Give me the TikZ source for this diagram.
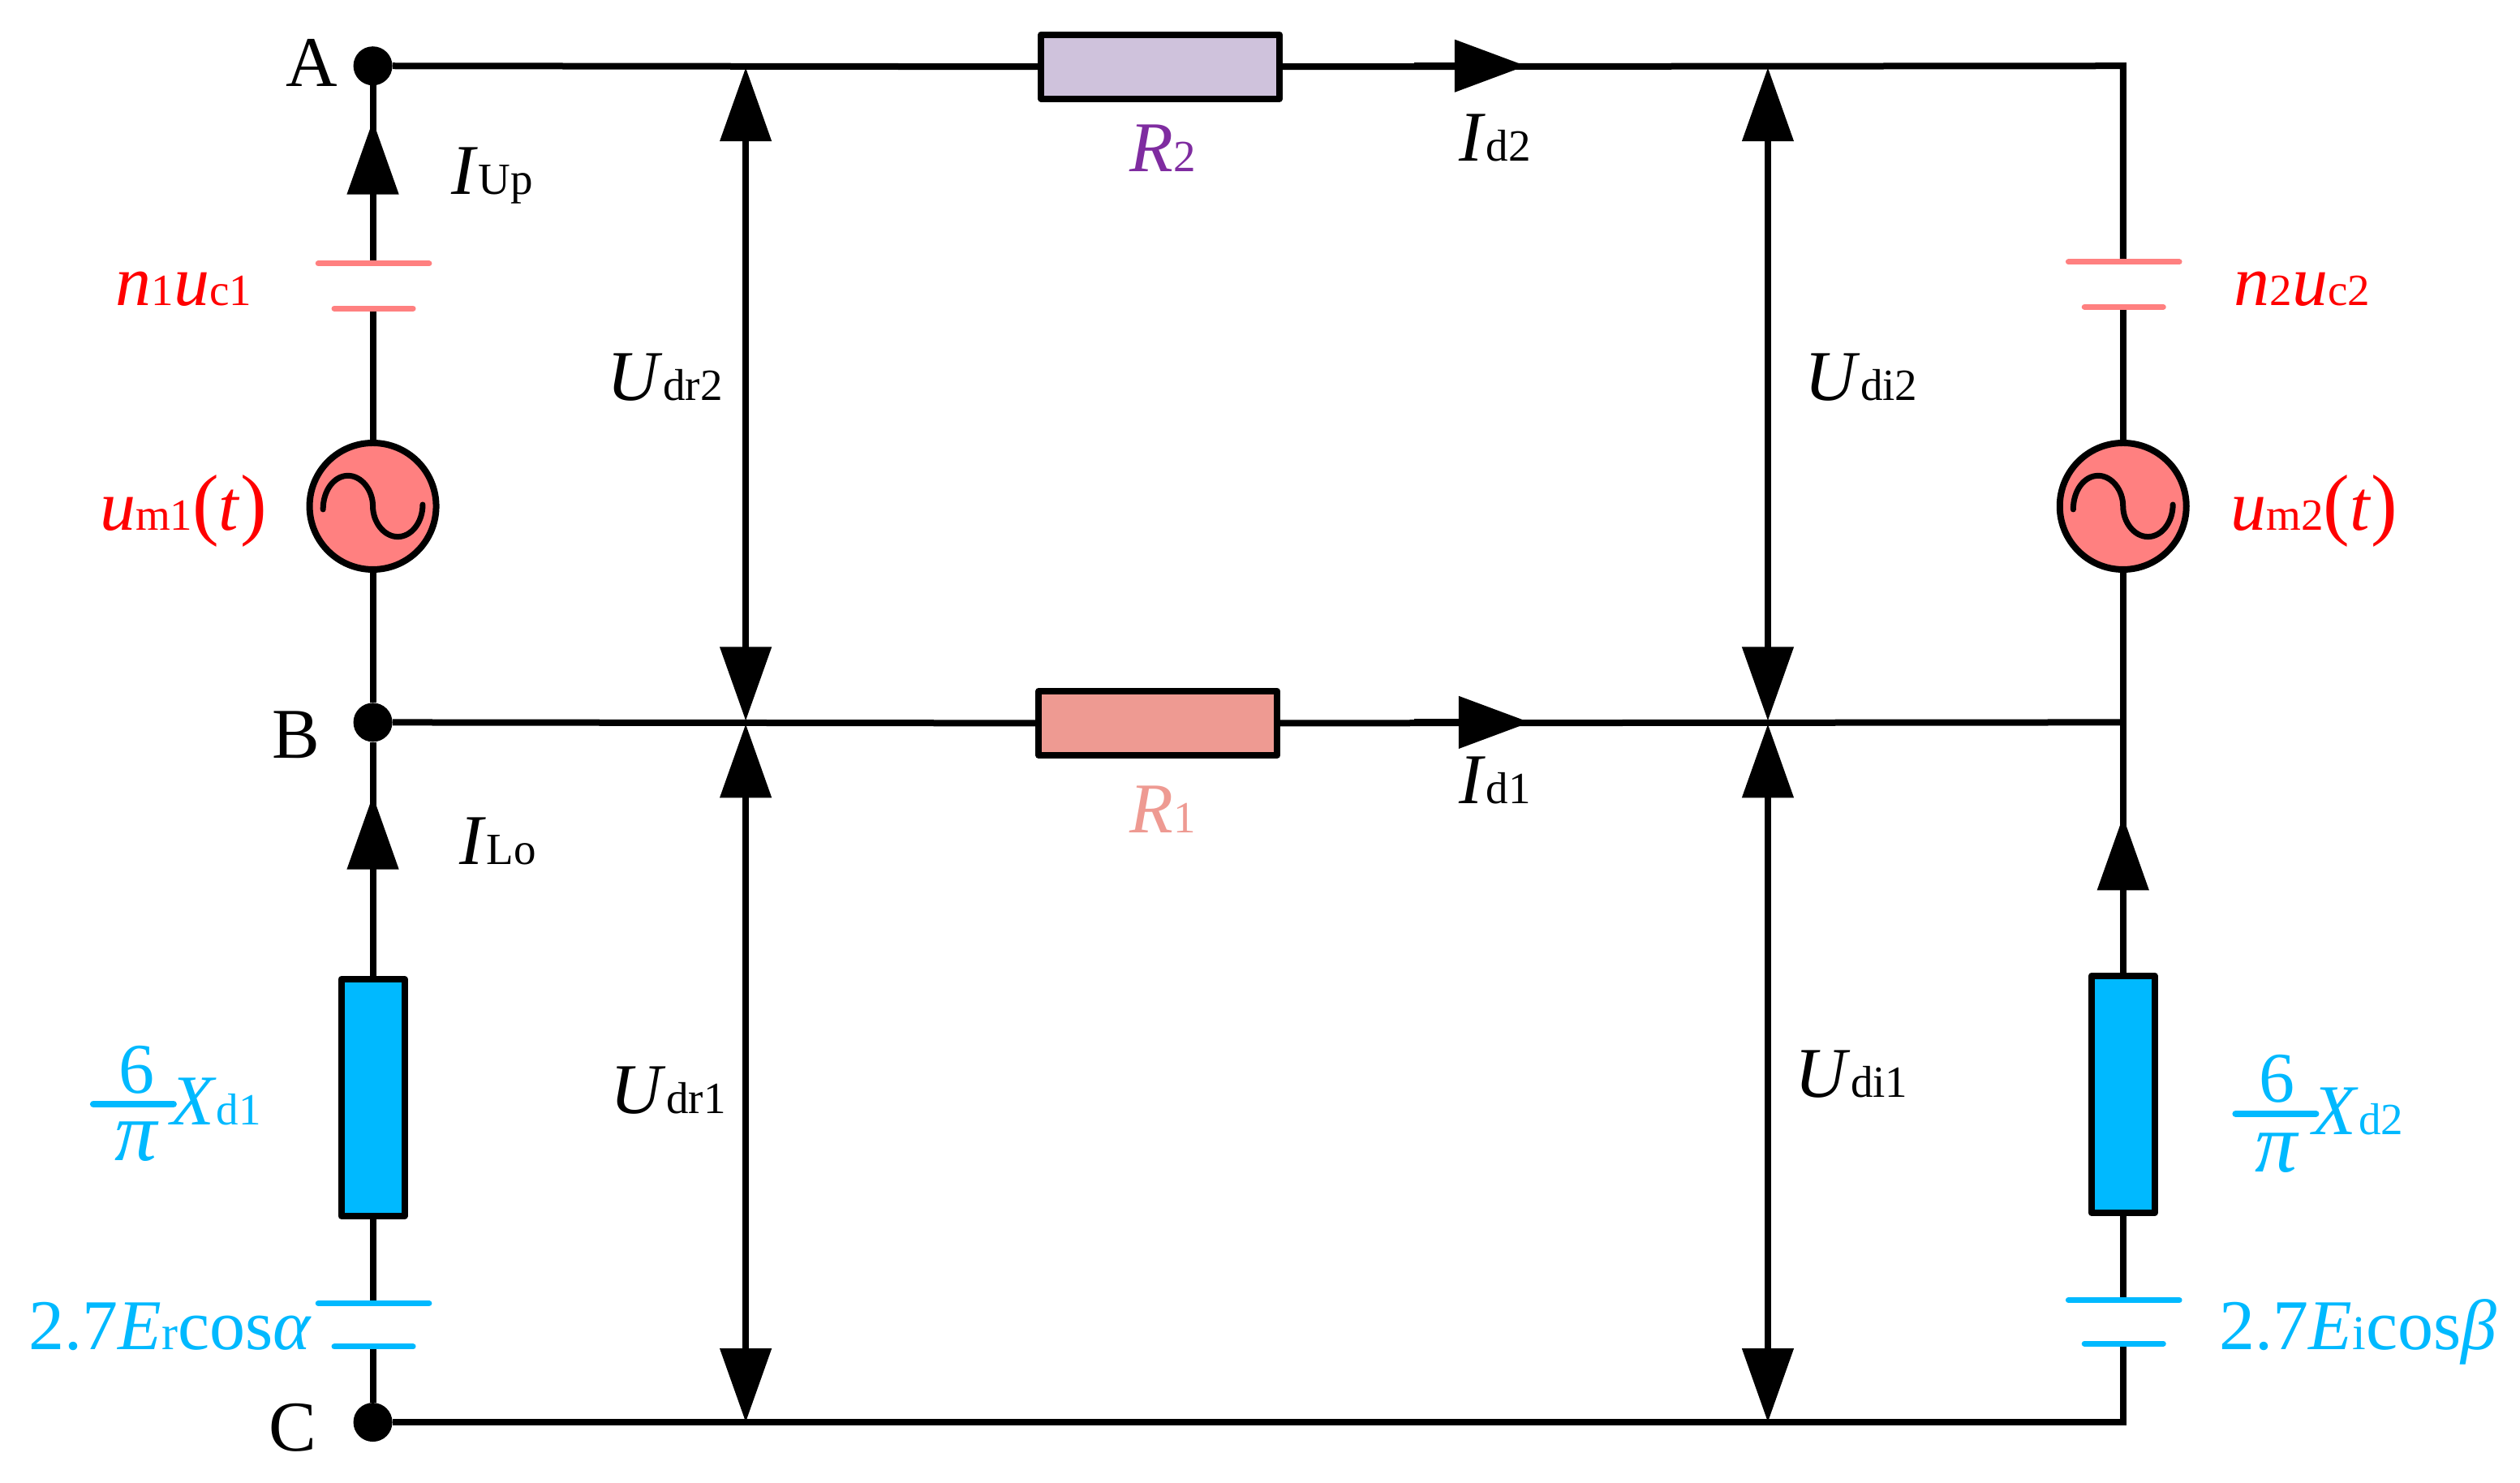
\documentclass[tikz,border=0pt]{standalone}
\usepackage{fontspec}
\setmainfont{Liberation Serif}
\usetikzlibrary{arrows.meta,calc}
\definecolor{cRed}{HTML}{FF0000}
\definecolor{cPink}{HTML}{FF8080}
\definecolor{cBlue}{HTML}{00B9FF}
\definecolor{cRone}{HTML}{EE9A92}
\definecolor{cRtwo}{HTML}{CFC2DC}
\definecolor{cPurple}{HTML}{7F2CA0}
\newcommand{\sbs}[1]{{\fontsize{55}{55}\selectfont #1}}
\newcommand{\sbc}[1]{{\fontsize{60}{60}\selectfont #1}}
\newcommand{\va}[1]{\textit{#1}}
\newcommand{\tallp}[1]{{\fontsize{98}{98}\selectfont #1}}
\tikzset{
  wire/.style={line width=8pt,black},
  bigtip/.style={-{Triangle[length=91pt,width=62pt,inset=0pt]}},
  horztip/.style={-{Triangle[length=88pt,width=63pt,inset=0pt]}},
  dbltip/.style={{Triangle[length=91pt,width=62pt,inset=0pt]}-{Triangle[length=91pt,width=62pt,inset=0pt]}},
  dot/.style={circle,fill=black,inner sep=0pt,minimum size=48pt},
  src/.style={circle,draw=black,fill=cPink,line width=8pt,inner sep=0pt,minimum size=156pt},
  resH/.style={rectangle,draw=black,line width=8pt,line join=round,inner sep=0pt,minimum width=294pt,minimum height=79pt},
  resV/.style={rectangle,draw=black,fill=cBlue,line width=8pt,line join=round,inner sep=0pt,minimum width=78pt,minimum height=292pt},
  lab/.style={anchor=base west,inner sep=0pt,font=\fontsize{88}{88}\selectfont},
  labc/.style={anchor=base,inner sep=0pt,font=\fontsize{88}{88}\selectfont},
  pinkplate/.style={line width=7pt,cPink,line cap=round},
  blueplate/.style={line width=7pt,cBlue,line cap=round},
  fracbar/.style={line width=8pt,cBlue,line cap=round},
}
\newcommand{\sinewave}[1]{\draw[line width=7pt,line cap=round] ($(#1.center)+(-62,4)$) .. controls ($(#1.center)+(-62,-20)$) and ($(#1.center)+(-48,-38)$) .. ($(#1.center)+(-31,-38)$) .. controls ($(#1.center)+(-14,-38)$) and ($(#1.center)+(0,-20)$) .. (#1.center) .. controls ($(#1.center)+(0,20)$) and ($(#1.center)+(14,38)$) .. ($(#1.center)+(31,38)$) .. controls ($(#1.center)+(48,38)$) and ($(#1.center)+(62,20)$) .. ($(#1.center)+(62,-2)$);}
\begin{document}
\begin{tikzpicture}[x=0.9904pt,y=-0.9904pt]
\useasboundingbox (0,0) rectangle (3136,1844.7);
% nodes
\node[dot] (nA) at (464,82) {};
\node[dot] (nB) at (464,899) {};
\node[dot] (nC) at (464,1770) {};
\node[resH,fill=cRtwo] (Rtwo) at (1444,83) {};
\node[resH,fill=cRone] (Rone) at (1441,900) {};
\node[src] (srcL) at (464,630) {};
\node[src] (srcR) at (2642,630) {};
\node[resV] (XL) at (464,1366) {};
\node[resV] (XR) at (2642,1362) {};
% named points
\coordinate (cTR) at (2642,82);
\coordinate (jBR) at (2642,899);
\coordinate (cBR) at (2642,1770);
\coordinate (pLa) at (464,328);
\coordinate (pLb) at (464,384);
\coordinate (pRa) at (2642,326);
\coordinate (pRb) at (2642,382);
\coordinate (qLa) at (464,1622);
\coordinate (qLb) at (464,1676);
\coordinate (qRa) at (2642,1618);
\coordinate (qRb) at (2642,1672);
% wires
\draw[wire] (nA) -- (Rtwo.west);
\draw[wire,line join=miter] (Rtwo.east) -- (cTR) -- (pRa);
\draw[wire] (pRb) -- (srcR.north);
\draw[wire] (srcR.south) -- (XR.north);
\draw[wire] (XR.south) -- (qRa);
\draw[wire,line join=miter] (qRb) -- (cBR) -- (nC);
\draw[wire] (nB) -- (Rone.west);
\draw[wire] (Rone.east) -- (jBR);
\draw[wire] (nA) -- (pLa);
\draw[wire] (pLb) -- (srcL.north);
\draw[wire] (srcL.south) -- (nB);
\draw[wire] (nB) -- (XL.north);
\draw[wire] (XL.south) -- (qLa);
\draw[wire] (qLb) -- (nC);
% plates
\draw[pinkplate] (396,328) -- (pLa) -- (534,328);
\draw[pinkplate] (416,384) -- (pLb) -- (514,384);
\draw[pinkplate] (2574,326) -- (pRa) -- (2712,326);
\draw[pinkplate] (2594,382) -- (pRb) -- (2692,382);
\draw[blueplate] (396,1622) -- (qLa) -- (534,1622);
\draw[blueplate] (416,1676) -- (qLb) -- (514,1676);
\draw[blueplate] (2574,1618) -- (qRa) -- (2712,1618);
\draw[blueplate] (2594,1672) -- (qRb) -- (2692,1672);
% sine symbols
\sinewave{srcL}
\sinewave{srcR}
% current arrows
\coordinate (iUa) at (464,300); \coordinate (iUb) at (464,150);
\coordinate (iLa) at (464,1140); \coordinate (iLb) at (464,990);
\coordinate (iRa) at (2642,1150); \coordinate (iRb) at (2642,1016);
\coordinate (iTa) at (1760,82); \coordinate (iTb) at (1899,82);
\coordinate (iMa) at (1760,899); \coordinate (iMb) at (1904,899);
\draw[wire,bigtip] (iUa) -- (iUb);
\draw[wire,bigtip] (iLa) -- (iLb);
\draw[wire,bigtip] (iRa) -- (iRb);
\draw[wire,horztip] (iTa) -- (iTb);
\draw[wire,horztip] (iMa) -- (iMb);
% voltage arrows
\coordinate (u1) at (928,84); \coordinate (u2) at (928,897);
\coordinate (u3) at (928,901); \coordinate (u4) at (928,1770);
\coordinate (u5) at (2200,84); \coordinate (u6) at (2200,897);
\coordinate (u7) at (2200,901); \coordinate (u8) at (2200,1770);
\draw[wire,dbltip] (u1) -- (u2);
\draw[wire,dbltip] (u3) -- (u4);
\draw[wire,dbltip] (u5) -- (u6);
\draw[wire,dbltip] (u7) -- (u8);
% labels
\node[labc] (lA) at (388,108) {A};
\node[labc] (lB) at (368,944) {B};
\node[labc] (lC) at (364,1806) {C};
\node[lab] (lIU) at (562,242) {\va{I}\sbs{Up}};
\node[lab] (lIL) at (572,1076) {\va{I}\sbs{Lo}};
\node[lab,text=cPurple] (lR2) at (1406,214) {\va{R}\sbs{2}};
\node[lab,text=cRone] (lR1) at (1406,1036) {\va{R}\sbs{1}};
\node[lab] (lId2) at (1816,200) {\va{I}\sbs{d2}};
\node[lab] (lId1) at (1816,1000) {\va{I}\sbs{d1}};
\node[lab] (lUr2) at (756,498) {\va{U}\sbs{dr2}};
\node[lab] (lUr1) at (760,1386) {\va{U}\sbs{dr1}};
\node[lab] (lUi2) at (2246,498) {\va{U}\sbs{di2}};
\node[lab] (lUi1) at (2234,1366) {\va{U}\sbs{di1}};
\node[lab,text=cRed] (ln1) at (144,380) {\va{n}\sbs{1}\va{u}\sbs{c1}};
\node[lab,text=cRed] (ln2) at (2780,380) {\va{n}\sbs{2}\va{u}\sbs{c2}};
\node[lab,text=cRed] (lm1) at (124,660) {\va{u}\sbs{m1}\tallp{(}\va{t}\tallp{)}};
\node[lab,text=cRed] (lm2) at (2776,660) {\va{u}\sbs{m2}\tallp{(}\va{t}\tallp{)}};
\node[lab,text=cBlue] (lE1) at (36,1680) {2.7\va{E}\sbc{r}cos\va{α}};
\node[lab,text=cBlue] (lE2) at (2762,1680) {2.7\va{E}\sbc{i}cos\va{β}};
% fractions
\node[labc,text=cBlue] (f1n) at (170,1360) {6};
\node[labc,text=cBlue,font=\fontsize{104}{104}\selectfont] (f1d) at (170,1444) {\va{π}};
\coordinate (f1a) at (116,1374); \coordinate (f1b) at (216,1374);
\draw[fracbar] (f1a) -- (f1b);
\node[lab,text=cBlue] (f1x) at (212,1400) {\va{X}\sbs{d1}};
\node[labc,text=cBlue] (f2n) at (2834,1372) {6};
\node[labc,text=cBlue,font=\fontsize{104}{104}\selectfont] (f2d) at (2834,1458) {\va{π}};
\coordinate (f2a) at (2782,1386); \coordinate (f2b) at (2882,1386);
\draw[fracbar] (f2a) -- (f2b);
\node[lab,text=cBlue] (f2x) at (2878,1412) {\va{X}\sbs{d2}};
\end{tikzpicture}
\end{document}
